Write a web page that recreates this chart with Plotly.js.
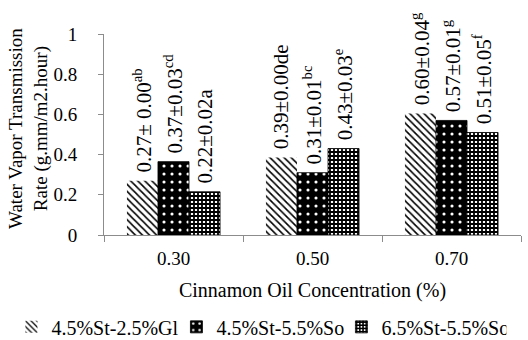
<!DOCTYPE html>
<html><head><meta charset="utf-8">
<script src="https://cdn.plot.ly/plotly-3.0.1.min.js"></script>
<style>html,body{margin:0;padding:0;background:#fff}#chart{width:528px;height:340px}</style>
</head><body><div id="chart"></div>
<script>
var categories = ['0.30', '0.50', '0.70'];
var seriesNames = ['4.5%St-2.5%Gl', '4.5%St-5.5%So', '6.5%St-5.5%So'];
var s1Values = [0.27, 0.385, 0.605];
var s2Values = [0.365, 0.31, 0.57];
var s3Values = [0.215, 0.43, 0.51];
var s1Labels = ['0.27± 0.00<sup>ab</sup>', '0.39±0.00de', '0.60±0.04<sup>g</sup>'];
var s2Labels = ['0.37±0.03<sup>cd</sup>', '0.31±0.01<sup>bc</sup>', '0.57±0.01<sup>g</sup>'];
var s3Labels = ['0.22±0.02a', '0.43±0.03<sup>e</sup>', '0.51±0.05<sup>f</sup>'];
var yTicks = [0, 0.2, 0.4, 0.6, 0.8, 1];
var xTitle = 'Cinnamon Oil Concentration (%)';
var yTitle = 'Water Vapor Transmission<br>Rate (g.mm/m2.hour)';

var F = 'Liberation Serif, Times New Roman, serif';
function pad(arr){ return arr.map(function(t){ return '\u00a0' + t; }); }
function mk(name, vals, labels, pattern, line){
  return {
    type: 'bar', name: name, x: categories, y: vals,
    text: pad(labels), textposition: 'outside', textangle: -90, constraintext: 'none',
    textfont: {family: F, size: 21, color: '#000'},
    cliponaxis: false, hoverinfo: 'skip',
    marker: {color: pattern.bgcolor, pattern: pattern, line: line}
  };
}
var data = [
  mk(seriesNames[0], s1Values, s1Labels, {shape: '\\', fgcolor: '#000', bgcolor: '#fff', size: 5, solidity: 0.32, fillmode: 'replace'}, {width: 0}),
  mk(seriesNames[1], s2Values, s2Labels, {shape: '.', fgcolor: '#fff', bgcolor: '#000', size: 8, solidity: 0.12, fillmode: 'replace'}, {width: 0.8, color: '#000'}),
  mk(seriesNames[2], s3Values, s3Labels, {shape: '+', fgcolor: '#000', bgcolor: '#fff', size: 4, solidity: 0.7, fillmode: 'replace'}, {width: 0.8, color: '#000'})
];
var layout = {
  width: 528, height: 340,
  margin: {l: 104, r: 7, t: 34, b: 105, autoexpand: false},
  paper_bgcolor: '#fff', plot_bgcolor: '#fff',
  font: {family: F, size: 18, color: '#000'},
  barmode: 'group', bargap: 0.33, bargroupgap: 0,
  showlegend: true,
  legend: {orientation: 'h', x: -0.222, xanchor: 'left', y: -0.36, yanchor: 'top',
           font: {family: F, size: 20}, itemwidth: 30, tracegroupgap: 0, itemclick: false,
           entrywidth: 120},
  xaxis: {
    type: 'category', showline: true, linecolor: '#8c8c8c', linewidth: 1,
    ticks: 'outside', tickson: 'boundaries', ticklen: 6, tickcolor: '#8c8c8c',
    tickfont: {family: F, size: 19}, showgrid: false, zeroline: false,
    ticklabelstandoff: 6, automargin: false,
    title: {text: xTitle, font: {family: F, size: 20}, standoff: 15}
  },
  yaxis: {
    range: [0, 1], tickvals: yTicks, ticktext: yTicks.map(String),
    showline: true, linecolor: '#8c8c8c', linewidth: 1,
    ticks: 'outside', ticklen: 5, tickcolor: '#8c8c8c',
    tickfont: {family: F, size: 19}, showgrid: false, zeroline: false,
    ticklabelstandoff: 17, automargin: false
  },
  annotations: [{
    text: yTitle, xref: 'paper', yref: 'paper', x: -0.181, y: 0.53,
    xanchor: 'center', yanchor: 'middle', textangle: -90, showarrow: false,
    font: {family: F, size: 19, color: '#000'}
  }]
};
Plotly.newPlot('chart', data, layout, {displayModeBar: false, staticPlot: true});
</script></body></html>
